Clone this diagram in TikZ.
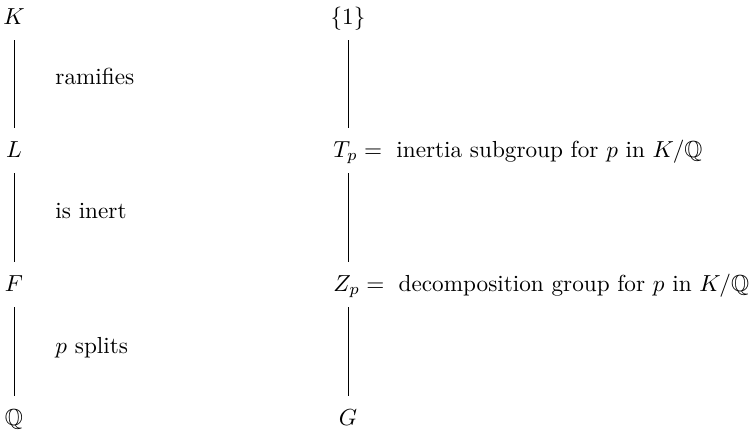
\documentclass[tikz,border=0pt]{standalone}
\usepackage{amssymb}
\begin{document}
\begin{tikzpicture}[x=0.431pt,y=-0.431pt,
  obj/.style={inner xsep=0pt,inner ysep=4.4pt,text height=8.1pt,text depth=2.5pt,font=\fontsize{10}{12}\selectfont},
  lbl/.style={inner sep=0pt,anchor=base west,font=\fontsize{10}{12}\selectfont},
  conn/.style={line width=0.4pt}]
\useasboundingbox (0,0) rectangle (754,431);
% left column
\node[obj,anchor=base] (K) at (14,24) {$K$};
\node[obj,anchor=base] (L) at (14,157) {$L$};
\node[obj,anchor=base] (F) at (14,291) {$F$};
\node[obj,anchor=base] (Q) at (14,425) {$\mathbb{Q}$};
\draw[conn] (K.south) -- (L.north);
\draw[conn] (L.south) -- (F.north);
\draw[conn] (F.south) -- (Q.north);
\node[lbl] (r1) at (55,84) {ramifies};
\node[lbl] (r2) at (55,218) {is inert};
\node[lbl] (r3) at (55,353) {$p$ splits};
% right column
\node[obj,anchor=base] (one) at (348,24) {$\{1\}$};
\node[obj,anchor=base west] (T) at (333,157) {$T_p = {}$ inertia subgroup for $p$ in $K/\mathbb{Q}$};
\node[obj,anchor=base west] (Z) at (333,291) {$Z_p = {}$ decomposition group for $p$ in $K/\mathbb{Q}$};
\node[obj,anchor=base] (G) at (348,425) {$G$};
\draw[conn] (one.south) -- (T.north -| one.south);
\draw[conn] (T.south -| one.south) -- (Z.north -| one.south);
\draw[conn] (Z.south -| one.south) -- (G.north);
\end{tikzpicture}
\end{document}
